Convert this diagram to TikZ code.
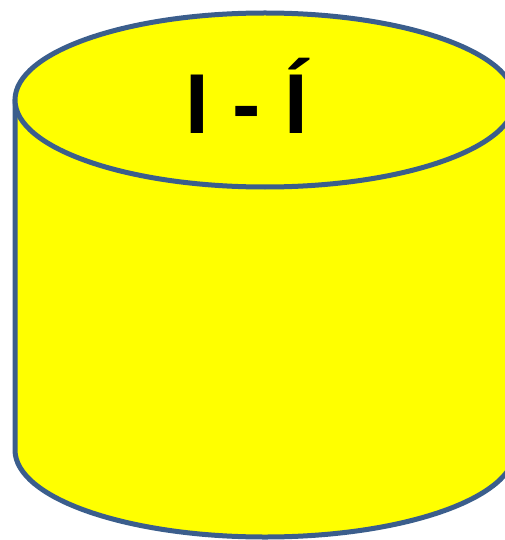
\documentclass[tikz,border=0pt]{standalone}
\usepackage{fontspec}
\setmainfont{Liberation Sans}
\usepackage{tikz}
\usetikzlibrary{positioning}
\definecolor{drumyellow}{RGB}{255,255,0}
\definecolor{drumedge}{RGB}{59,94,140}

\begin{document}
\begin{tikzpicture}[x=1pt,y=-1pt]
  \useasboundingbox (0,0) rectangle (505,540);
  \clip (0,0) rectangle (505,540);
  % Body of the drum
  \filldraw[fill=drumyellow, draw=drumedge, line width=5pt, line join=round]
    (15,100) -- (15,450) arc[start angle=180, end angle=360, x radius=250, y radius=-87]
    -- (515,100) -- cycle;
  % Top lid
  \filldraw[fill=drumyellow, draw=drumedge, line width=5pt] (265,100) ellipse (250 and 87);
  \node[anchor=base, inner sep=0pt, font=\fontsize{85}{90}\selectfont\bfseries] (lid) at (247,134) {I - Í};
\end{tikzpicture}
\end{document}
